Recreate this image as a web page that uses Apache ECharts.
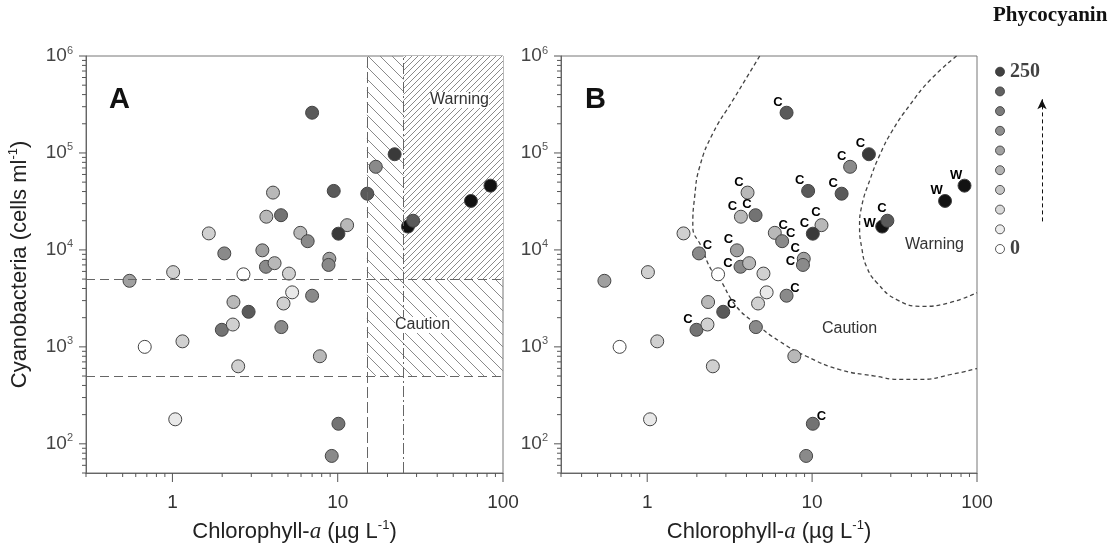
<!DOCTYPE html>
<html><head><meta charset="utf-8">
<script src="https://cdn.jsdelivr.net/npm/echarts@6/dist/echarts.min.js"></script>
<style>html,body{margin:0;padding:0;background:#fff}#c{width:1111px;height:548px}</style>
</head><body><div id="c"></div>
<script>
// ---------------- data ----------------
const chlorophyll = [7.0, 22.1, 17, 4.06, 9.46, 15.1, 84, 64, 3.7, 4.54, 11.4, 26.6, 28.6, 1.66, 5.94, 6.58, 10.1, 2.06, 3.5, 3.68, 4.15, 5.07, 8.9, 8.8, 2.69, 1.01, 0.55, 5.3, 7.0, 2.34, 4.7, 2.89, 1.99, 2.32, 4.56, 1.15, 0.68, 7.8, 2.5, 1.04, 10.1, 9.2];
const cyanobacteria = [260000, 97000, 72000, 39000, 40600, 38000, 46000, 32000, 22000, 22800, 18000, 17400, 20000, 14800, 15000, 12300, 14700, 9200, 9900, 6700, 7300, 5700, 8100, 7000, 5600, 5900, 4800, 3650, 3370, 2900, 2800, 2300, 1500, 1700, 1600, 1140, 1000, 800, 630, 179, 161, 75];
const phycocyanin = [187, 212, 137, 87, 187, 187, 240, 240, 87, 162, 87, 240, 187, 62, 87, 137, 212, 137, 112, 137, 87, 62, 112, 137, 8, 62, 112, 37, 137, 87, 62, 187, 162, 62, 137, 62, 8, 87, 62, 37, 162, 137];
const alertB = ['C','C','C','C','C','C','W','W','C','C','C','W','C','','C','C','C','C','C','C','','','C','C','','','','','C','','','C','C','','','','','','','','C',''];

const cautionChl = 15, warningChl = 25, cautionCells = 500, warningCells = 5000;

const cautionCurveX = [4.81, 3.31, 2.50, 2.08, 1.94, 1.89, 2.13, 2.45, 2.69, 3.47, 4.48, 6.35, 9.23, 14.7, 24, 34.1, 45, 70, 100];
const cautionCurveY = [1000000, 350000, 159000, 72000, 35400, 17400, 10800, 6200, 5300, 2620, 1770, 1140, 800, 583, 500, 461, 461, 520, 598];
const warningCurveX = [75.2, 51.8, 39.1, 30.8, 25.7, 22.4, 20.0, 19.4, 20.0, 21.4, 24.7, 32.6, 47, 68.4, 100];
const warningCurveY = [1000000, 562000, 311000, 172000, 95000, 52600, 28400, 17300, 10500, 6700, 4590, 3070, 2620, 2860, 3620];

const xTickValues = [0.3,0.4,0.5,0.6,0.7,0.8,0.9,1,2,3,4,5,6,7,8,9,10,20,30,40,50,60,70,80,90,100];
const yTickValues = [50,60,70,80,90,100,200,300,400,500,600,700,800,900,1000,2000,3000,4000,5000,6000,7000,8000,9000,10000,20000,30000,40000,50000,60000,70000,80000,90000,100000,200000,300000,400000,500000,600000,700000,800000,900000,1000000];
const xMin = 0.3, xMax = 100, yMin = 50, yMax = 1000000;

const legendValues = [8, 37, 62, 87, 112, 137, 162, 187, 212, 240];
const legendLabels = ['0', '250'];
const pieceEdges = [0, 25, 50, 75, 100, 125, 150, 175, 200, 225, 250];

// ---------------- styles ----------------
const grays = ['#ffffff','#e9e9e9','#d0d0d0','#b8b8b8','#a0a0a0','#8a8a8a','#737373','#5a5a5a','#3a3a3a','#121212'];
const placement = {0:'ul',1:'ul',2:'ul',3:'ul',4:'ul',5:'ul',6:'ul',7:'ul',8:'ul',9:'ul',10:'u',11:'l',12:'u',14:'ur',15:'ur',16:'ul',17:'ur',18:'ul',19:'l',22:'ul',23:'l',28:'ur',31:'ur',32:'ul',40:'ur'};
const offsets = {ul:[-8,-10], ur:[9,-7], l:[-12,-3], u:[-5,-12]};
const SYM = 13;

function hatch(dir, s, withBg) {
  const c = document.createElement('canvas');
  c.width = s; c.height = s;
  const g = c.getContext('2d');
  if (withBg) { g.fillStyle = '#fff'; g.fillRect(0,0,s,s); }
  g.strokeStyle = '#8a8a8a'; g.lineWidth = 1;
  g.beginPath();
  for (let k = -1; k <= 1; k++) {
    if (dir === 'back') { g.moveTo(k*s, 0); g.lineTo(k*s + s, s); }
    else { g.moveTo(k*s, s); g.lineTo(k*s + s, 0); }
  }
  g.stroke();
  return c;
}
const isPow10 = v => Math.abs(Math.log10(v) - Math.round(Math.log10(v))) < 1e-6;

const pointsA = chlorophyll.map((x, i) => [x, cyanobacteria[i], phycocyanin[i]]);
const pointsB = chlorophyll.map((x, i) => {
  const item = { value: [x, cyanobacteria[i], phycocyanin[i]] };
  if (alertB[i]) {
    const o = offsets[placement[i] || 'ul'];
    item.label = { show: true, formatter: alertB[i], position: [SYM/2 + o[0], SYM/2 + o[1]], align: 'center', verticalAlign: 'middle' };
  }
  return item;
});

const font = 'Liberation Sans, Arial, sans-serif';
const serif = 'Liberation Serif, Times New Roman, serif';

function makeAxes(gi) {
  const x = {
    type: 'log', logBase: 10, gridIndex: gi, min: xMin, max: xMax,
    axisLine: { show: true, lineStyle: { color: '#666', width: 1 } },
    axisTick: { show: false }, splitLine: { show: false },
    axisLabel: { margin: 20, fontSize: 19, color: '#333', fontFamily: font, showMinLabel: true, showMaxLabel: true,
      formatter: v => isPow10(v) ? String(Math.round(v)) : '' },
    name: 'Chlorophyll-{it|a} (µg L{sup|-1})', nameLocation: 'middle', nameGap: 46,
    nameTextStyle: { fontSize: 22, color: '#222', fontFamily: font, lineHeight: 26,
      rich: { it: { fontFamily: serif, fontStyle: 'italic', fontSize: 23, lineHeight: 26 }, sup: { fontSize: 13, verticalAlign: 'top', lineHeight: 13, fontFamily: font } } }
  };
  const y = {
    type: 'log', logBase: 10, gridIndex: gi, min: yMin, max: yMax,
    axisLine: { show: true, lineStyle: { color: '#666', width: 1 } },
    axisTick: { show: false }, splitLine: { show: false },
    axisLabel: { margin: 13, fontSize: 19, color: '#444', fontFamily: font, lineHeight: 22,
      formatter: v => isPow10(v) ? '10{sup|' + Math.round(Math.log10(v)) + '}' : '',
      rich: { sup: { fontSize: 11, verticalAlign: 'top', lineHeight: 11, fontFamily: font, color: '#555' } } }
  };
  if (gi === 0) {
    y.name = 'Cyanobacteria (cells ml{sup|-1})';
    y.nameLocation = 'middle'; y.nameGap = 53;
    y.nameTextStyle = { fontSize: 22, color: '#222', fontFamily: font, lineHeight: 26,
      rich: { sup: { fontSize: 13, verticalAlign: 'top', lineHeight: 13, fontFamily: font } } };
  }
  return [x, y];
}
const axA = makeAxes(0), axB = makeAxes(1);

function tickSeries(gi) {
  return [{
    type: 'custom', xAxisIndex: gi, yAxisIndex: gi, clip: false, silent: true, z: 5,
    data: xTickValues.map(v => [v, yMin]),
    renderItem: (p, api) => { const v = api.value(0); const c = api.coord([v, api.value(1)]); const len = isPow10(v) ? 9 : 4;
      return { type: 'line', shape: { x1: c[0], y1: c[1], x2: c[0], y2: c[1] + len }, style: { stroke: '#555', lineWidth: 1 } }; }
  }, {
    type: 'custom', xAxisIndex: gi, yAxisIndex: gi, clip: false, silent: true, z: 5,
    data: yTickValues.map(v => [xMin, v]),
    renderItem: (p, api) => { const v = api.value(1); const c = api.coord([api.value(0), v]); const len = isPow10(v) ? 7 : 4;
      return { type: 'line', shape: { x1: c[0], y1: c[1], x2: c[0] - len, y2: c[1] }, style: { stroke: '#555', lineWidth: 1 } }; }
  }];
}

const pointStyle = { borderColor: '#444', borderWidth: 1, opacity: 1 };
const dashStyle = { color: '#666', width: 1 };

const series = [
  { type: 'scatter', xAxisIndex: 0, yAxisIndex: 0, data: [], silent: true,
    markArea: { silent: true, label: { show: false },
      itemStyle: { color: { image: hatch('back', 12, false), repeat: 'repeat' }, opacity: 1 },
      data: [[{ coord: [cautionChl, cautionCells] }, { coord: [xMax, yMax] }]] } },
  { type: 'scatter', xAxisIndex: 0, yAxisIndex: 0, data: [], silent: true,
    markArea: { silent: true, label: { show: false },
      itemStyle: { color: { image: hatch('fwd', 6, true), repeat: 'repeat' }, opacity: 1 },
      data: [[{ coord: [warningChl, warningCells] }, { coord: [xMax, yMax] }]] } },
  { type: 'scatter', xAxisIndex: 0, yAxisIndex: 0, data: [], silent: true,
    markLine: { silent: true, symbol: ['none', 'none'], label: { show: false }, animation: false,
      data: [
        [{ coord: [xMin, warningCells], lineStyle: Object.assign({ type: [9, 5] }, dashStyle) }, { coord: [xMax, warningCells] }],
        [{ coord: [xMin, cautionCells], lineStyle: Object.assign({ type: [9, 5] }, dashStyle) }, { coord: [xMax, cautionCells] }],
        [{ coord: [cautionChl, yMin], lineStyle: Object.assign({ type: [11, 4] }, dashStyle) }, { coord: [cautionChl, yMax] }],
        [{ coord: [warningChl, yMin], lineStyle: Object.assign({ type: [11, 3, 2, 3] }, dashStyle) }, { coord: [warningChl, yMax] }]
      ] } },
  { type: 'scatter', xAxisIndex: 0, yAxisIndex: 0, symbolSize: SYM, data: pointsA, itemStyle: pointStyle, z: 4 },
  { type: 'line', xAxisIndex: 1, yAxisIndex: 1, smooth: 0.5, showSymbol: false, silent: true,
    data: cautionCurveX.map((x, i) => [x, cautionCurveY[i]]),
    lineStyle: { color: '#444', width: 1.3, type: [4, 3] } },
  { type: 'line', xAxisIndex: 1, yAxisIndex: 1, smooth: 0.5, showSymbol: false, silent: true,
    data: warningCurveX.map((x, i) => [x, warningCurveY[i]]),
    lineStyle: { color: '#444', width: 1.3, type: [4, 3] } },
  { type: 'scatter', xAxisIndex: 1, yAxisIndex: 1, symbolSize: SYM, data: pointsB, itemStyle: pointStyle, z: 4,
    label: { fontSize: 13, fontWeight: 'bold', color: '#000', fontFamily: font } },
  { type: 'scatter', xAxisIndex: 2, yAxisIndex: 2, symbolSize: 9, silent: true,
    itemStyle: { borderColor: '#333', borderWidth: 1 },
    data: legendValues.map((v, i) => {
      const it = { value: [0, i, v] };
      if (i === 0) it.label = { show: true, formatter: legendLabels[0] };
      if (i === legendValues.length - 1) it.label = { show: true, formatter: legendLabels[1] };
      return it;
    }),
    label: { position: 'right', distance: 5, fontFamily: serif, fontWeight: 'bold', fontSize: 20, color: '#111' },
    markLine: { silent: true, symbol: ['none', 'arrow'], symbolSize: [7, 10], label: { show: false },
      lineStyle: { color: '#111', width: 1, type: [4, 3] },
      data: [[{ coord: [2.1, 1.4] }, { coord: [2.1, 7.6] }]] } }
].concat(tickSeries(0), tickSeries(1));

const option = {
  animation: false,
  backgroundColor: '#fff',
  grid: [
    { left: 86, top: 56, width: 417, height: 417, show: true, borderColor: '#777', borderWidth: 1, backgroundColor: 'transparent', containLabel: false, outerBoundsMode: 'none' },
    { left: 561, top: 56, width: 416, height: 417, show: true, borderColor: '#777', borderWidth: 1, backgroundColor: 'transparent', containLabel: false, outerBoundsMode: 'none' },
    { left: 990, top: 61.85, width: 60, height: 197, show: false, outerBoundsMode: 'none' }
  ],
  xAxis: [axA[0], axB[0], { type: 'value', gridIndex: 2, min: -0.5, max: 2.5, show: false }],
  yAxis: [axA[1], axB[1], { type: 'value', gridIndex: 2, min: -0.5, max: 9.5, show: false }],
  visualMap: [{
    type: 'piecewise', show: false, dimension: 2, seriesIndex: [3, 6, 7],
    pieces: grays.map((c, i) => ({ gte: pieceEdges[i], lt: pieceEdges[i + 1], color: c }))
  }],
  graphic: [
    { type: 'text', left: 109, top: 85, style: { text: 'A', font: 'bold 29px ' + font, fill: '#111' } },
    { type: 'text', left: 585, top: 85, style: { text: 'B', font: 'bold 29px ' + font, fill: '#111' } },
    { type: 'text', left: 430, top: 92, z: 10, style: { text: 'Warning', font: '16px ' + font, fill: '#333', backgroundColor: '#fff' } },
    { type: 'text', left: 395, top: 317, z: 10, style: { text: 'Caution', font: '16px ' + font, fill: '#333', backgroundColor: '#fff' } },
    { type: 'text', left: 905, top: 237, style: { text: 'Warning', font: '16px ' + font, fill: '#333' } },
    { type: 'text', left: 822, top: 321, style: { text: 'Caution', font: '16px ' + font, fill: '#333' } },
    { type: 'text', left: 993, top: 5, style: { text: 'Phycocyanin', font: 'bold 21px ' + serif, fill: '#111' } }
  ],
  series: series
};
const chart = echarts.init(document.getElementById('c'), null, { renderer: 'canvas' });
chart.setOption(option);
</script></body></html>
